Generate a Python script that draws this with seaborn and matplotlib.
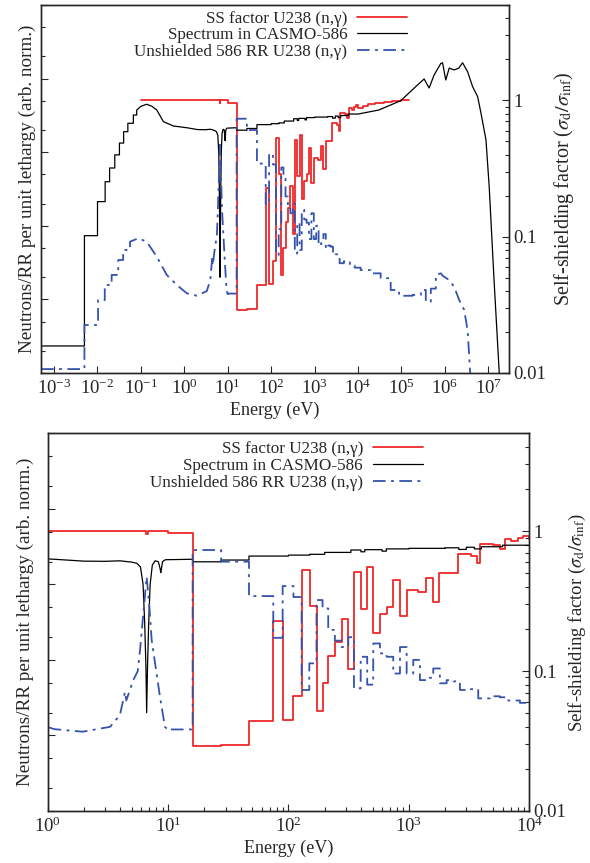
import numpy as np
import pandas as pd
import seaborn as sns
import matplotlib.pyplot as plt
from matplotlib import ticker

# ---- data (energies in eV) ----
# self-shielding factor U238 (n,g), group steps, right axis
ss_edges = [0.1, 6.55, 6.8, 10, 16, 27.6, 47, 74.8, 89.5, 110, 128.6, 151, 171, 192, 214,
            243, 276, 314, 350, 398, 451, 506, 575, 654, 740, 844, 959, 1200, 1400, 1580,
            1790, 2570, 3260, 3700, 3900, 5000, 5700, 6300, 7100, 8100, 8900, 1e4, 1.3e4,
            1.7e4, 2.5e4, 4e4, 6e4, 1e5, 1.5e5]
ss_vals = [1.0, 0.96, 1.0, 0.963, 0.029, 0.0295, 0.0443, 0.227, 0.045, 0.066, 0.53, 0.29,
           0.052, 0.082, 0.129, 0.161, 0.236, 0.104, 0.51, 0.279, 0.553, 0.188, 0.254, 0.288,
           0.446, 0.246, 0.377, 0.366, 0.464, 0.311, 0.504, 0.681, 0.663, 0.594, 0.804, 0.8,
           0.74, 0.872, 0.849, 0.9, 0.93, 0.88, 0.91, 0.94, 0.96, 0.975, 0.99, 1.0]

# CASMO-586 spectrum, left axis (arb. norm.)
spec_th_edges = [5e-4, 5e-3, 1e-2, 0.015, 0.019, 0.025, 0.032, 0.04, 0.05, 0.067, 0.08]
spec_th_vals = [2.33e-5, 7.34e-4, 2.13e-3, 3.97e-3, 6.1e-3, 9.2e-3, 0.0133, 0.019, 0.0247, 0.032]
spec_lo_E = [0.08, 0.1, 0.136, 0.18, 0.232, 0.33, 0.56, 1.14, 2.0, 3.0, 4.0, 5.0, 5.5, 5.9,
             6.2, 6.4, 6.55, 6.64, 6.75, 6.9, 7.1, 7.4, 7.8, 8.3, 8.6, 8.7, 8.8, 9.0, 9.5, 16]
spec_lo_v = [0.0374, 0.042, 0.0448, 0.042, 0.0374, 0.026, 0.0227, 0.0215, 0.0203, 0.0202,
             0.0205, 0.0197, 0.019, 0.017, 0.010, 0.003, 0.0008, 0.0002, 0.0008, 0.003, 0.01,
             0.018, 0.0205, 0.020, 0.016, 0.0143, 0.016, 0.020, 0.0212, 0.0215]
spec_res_edges = [16, 27.6, 47, 100, 150, 200, 330, 400, 430, 600, 650, 1000, 2000, 2600,
                  3000, 3500, 4000, 6000, 1e4]
spec_res_vals = [0.0199, 0.021, 0.0237, 0.0244, 0.025, 0.0265, 0.0285, 0.027, 0.0288,
                 0.0275, 0.0295, 0.030, 0.0305, 0.029, 0.031, 0.0295, 0.0315, 0.033]
spec_hi_E = [1e4, 3e4, 9.6e4, 2.34e5, 3.33e5, 4.34e5, 5.66e5, 8.08e5, 8.85e5, 1.05e6, 1.26e6,
             1.64e6, 2.1e6, 2.56e6, 3.34e6, 4.36e6, 5.69e6, 6.78e6, 8.85e6, 1.05e7, 1.36e7,
             1.79e7, 2e7]
spec_hi_v = [0.033, 0.0374, 0.050, 0.0818, 0.0988, 0.0745, 0.112, 0.161, 0.164, 0.0957,
             0.139, 0.131, 0.139, 0.164, 0.124, 0.0777, 0.0568, 0.0341, 0.0147, 3.4e-3,
             1.8e-4, 1e-5, 4e-6]

# unshielded 586-group reaction rate U238 (n,g), left axis
rr_th_edges = [5e-4, 5e-3, 1.03e-2, 0.0147, 0.0212, 0.030, 0.039, 0.056]
rr_th_vals = [1.13e-5, 4.49e-5, 9.8e-5, 1.57e-4, 2.15e-4, 3.43e-4, 4.69e-4]
rr_lo_E = [0.056, 0.087, 0.136, 0.232, 0.394, 0.671, 1.14, 1.95, 3.3, 3.98, 4.39, 4.5, 5.14,
           5.6, 5.85, 6.3, 6.64, 7.0, 7.31, 8.57, 9.42, 10]
rr_lo_v = [6.08e-4, 6.76e-4, 6.08e-4, 3.8e-4, 2.15e-4, 1.57e-4, 1.21e-4, 1.12e-4, 1.3e-4,
           1.86e-4, 3.78e-4, 2.9e-4, 5.4e-4, 7.1e-4, 1.35e-3, 5e-3, 0.0126, 5e-3, 1.83e-3,
           3.24e-4, 1.3e-4, 1.18e-4]
rr_res_edges = [10, 16, 27.6, 47, 74.8, 89.5, 110, 128.6, 149, 171, 192, 214, 243, 276, 314,
                350, 398, 451, 506, 575, 654, 742, 844, 959, 1088, 1236, 1406, 1595, 1811,
                2060, 2338, 2656, 3019, 3770, 4716, 5714, 6490, 8375, 1.15e4, 1.96e4, 3.33e4,
                5.66e4, 8.8e4, 1.8e5, 2.8e5, 3.64e5, 4.75e5, 6.2e5]
rr_res_vals = [1.2e-4, 0.0285, 0.020, 7.0e-3, 1.96e-3, 9.5e-3, 6.8e-3, 4e-4, 9e-4, 6.2e-3,
               4.8e-3, 2.5e-3, 1.8e-3, 1.48e-3, 2.0e-3, 4.2e-4, 1.1e-3, 4.7e-4, 1.65e-3,
               1.22e-3, 1.1e-3, 6.6e-4, 1.48e-3, 6.6e-4, 1e-3, 5.4e-4, 5.8e-4, 7.7e-4,
               4.9e-4, 5.4e-4, 5.2e-4, 4e-4, 4.1e-4, 3.1e-4, 3.3e-4, 3.2e-4, 2.9e-4, 2.7e-4,
               2.5e-4, 2.26e-4, 1.94e-4, 1.34e-4, 1.12e-4, 1.15e-4, 1.34e-4, 9.3e-5, 1.4e-4]
rr_hi_E = [6.2e5, 8.1e5, 8.85e5, 1.26e6, 1.64e6, 2.14e6, 2.79e6, 3.34e6, 3.84e6, 4.5e6]
rr_hi_v = [2.14e-4, 2.26e-4, 2.1e-4, 1.83e-4, 1.48e-4, 9.8e-5, 7.2e-5, 3.8e-5, 1e-5, 2e-6]

labels = ["SS factor U238 (n,γ)", "Spectrum in CASMO-586", "Unshielded 586 RR U238 (n,γ)"]
top_xticks = [1e-3, 1e-2, 1e-1, 1, 10, 1e2, 1e3, 1e4, 1e5, 1e6, 1e7]
bot_xticks = [1, 10, 1e2, 1e3, 1e4]


def steps(edges, vals):
    x = np.repeat(np.asarray(edges, float), 2)[1:-1]
    y = np.repeat(np.asarray(vals, float), 2)
    return x, y


def join(*parts):
    xs, ys = zip(*parts)
    return pd.DataFrame({"E": np.concatenate(xs), "v": np.concatenate(ys)})


ss_df = join(steps(ss_edges, ss_vals))
spec_df = join(steps(spec_th_edges, spec_th_vals), (spec_lo_E, spec_lo_v),
               steps(spec_res_edges, spec_res_vals), (spec_hi_E, spec_hi_v))
rr_df = join(steps(rr_th_edges, rr_th_vals), (rr_lo_E, rr_lo_v),
             steps(rr_res_edges, rr_res_vals), (rr_hi_E, rr_hi_v))

sns.set_style("ticks")
plt.rcParams['font.family'] = ['Liberation Serif', 'DejaVu Serif']
plt.rcParams['mathtext.fontset'] = 'stix'
plt.rcParams['font.size'] = 12

red = '#f0282a'
blue = '#3553ad'
dashdot = (0, (7, 3, 1.6, 3))

fig = plt.figure(figsize=(5.9, 8.63), dpi=100)


def panel(rect, xlim, xticks, minor_x, legend_anchor, rlabelpad, rlabelsize, llabelpad):
    ax = fig.add_axes(rect)
    ax2 = ax.twinx()
    ax.set_xscale('log')
    ax.set_yscale('log')
    ax2.set_yscale('log')

    sns.lineplot(data=ss_df, x="E", y="v", ax=ax, sort=False, estimator=None,
                 color=red, lw=1.3, label=labels[0])
    sns.lineplot(data=spec_df, x="E", y="v", ax=ax2, sort=False, estimator=None,
                 color='black', lw=0.9, label=labels[1])
    sns.lineplot(data=rr_df, x="E", y="v", ax=ax2, sort=False, estimator=None,
                 color=blue, lw=1.3, linestyle=dashdot, label=labels[2])

    ax.set_xlim(*xlim)
    ax.set_ylim(0.01, 5)
    ax2.set_ylim(1e-5, 1)

    # right axis: SS factor
    ax.yaxis.tick_right()
    ax.yaxis.set_label_position('right')
    ax.yaxis.set_major_locator(ticker.FixedLocator([0.01, 0.1, 1]))
    ax.yaxis.set_major_formatter(ticker.FuncFormatter(lambda v, p: f"{v:g}"))
    ax.yaxis.set_minor_locator(ticker.LogLocator(base=10, subs=np.arange(2, 10)))
    ax.yaxis.set_minor_formatter(ticker.NullFormatter())
    ax.set_ylabel(r"Self-shielding factor ($\sigma_{\rm d}/\sigma_{\rm inf}$)",
                  labelpad=rlabelpad, fontsize=rlabelsize)

    # left axis: spectrum / RR
    ax2.yaxis.tick_left()
    ax2.yaxis.set_label_position('left')
    ax2.yaxis.set_major_locator(ticker.FixedLocator([1e-5, 1e-4, 1e-3, 1e-2, 1e-1, 1]))
    ax2.yaxis.set_minor_locator(ticker.LogLocator(base=10, subs=(2, 5)))
    ax2.yaxis.set_major_formatter(ticker.NullFormatter())
    ax2.yaxis.set_minor_formatter(ticker.NullFormatter())
    ax2.set_ylabel("Neutrons/RR per unit lethargy (arb. norm.)", labelpad=llabelpad,
                   fontsize=13.8)

    ax.xaxis.set_major_locator(ticker.FixedLocator(xticks))
    ax.xaxis.set_major_formatter(ticker.LogFormatterSciNotation())
    if minor_x:
        ax.xaxis.set_minor_locator(ticker.LogLocator(base=10, subs=np.arange(2, 10), numticks=20))
    else:
        ax.xaxis.set_minor_locator(ticker.NullLocator())
    ax.xaxis.set_minor_formatter(ticker.NullFormatter())
    ax.set_xlabel("Energy (eV)", labelpad=3, fontsize=13)

    for a in (ax, ax2):
        a.tick_params(which='major', direction='in', length=5, width=0.8, labelsize=13.5)
        a.tick_params(which='minor', direction='in', length=2.8, width=0.8)
        for s in a.spines.values():
            s.set_linewidth(1.0)
            s.set_visible(True)
    ax.tick_params(axis='x', top=False, pad=4)
    ax.tick_params(axis='y', pad=3)

    handles = ax.get_lines()[:1] + ax2.get_lines()[:2]
    if ax.get_legend():
        ax.get_legend().remove()
    if ax2.get_legend():
        ax2.get_legend().remove()
    ax2.legend(handles, labels, loc='upper right', bbox_to_anchor=legend_anchor,
               frameon=False, markerfirst=False, handlelength=2.9, handletextpad=0.6,
               labelspacing=0.05, borderpad=0, borderaxespad=0, fontsize=12.3)
    return ax, ax2


panel([0.0695, 0.5678, 0.7932, 0.4264], (5e-4, 3e7), top_xticks, False, (0.782, 0.985),
      4, 14.5, 0)
panel([0.0808, 0.0603, 0.8162, 0.4376], (1, 1e4), bot_xticks, True, (0.779, 0.98),
      0.5, 13.5, 6)

fig.savefig("out.png", dpi=100)
